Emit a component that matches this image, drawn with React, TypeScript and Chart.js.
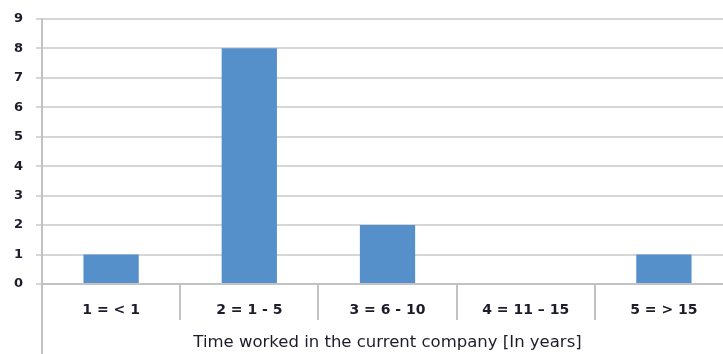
import React, { useEffect, useRef } from "react";
import { Chart, registerables } from "chart.js";

Chart.register(...registerables);

const categories = ["1 = < 1", "2 = 1 - 5", "3 = 6 - 10", "4 = 11 – 15", "5 = > 15"];
const counts = [1, 8, 2, 0, 1];
const yTicks = [0, 1, 2, 3, 4, 5, 6, 7, 8, 9];
const xTitle = "Time worked in the current company [In years]";

const FONT = "'DejaVu Sans', 'Liberation Sans', sans-serif";
const TEXT = "#1c1c2a";
const GRID = "#d6d6d6";
const AXIS = "#c2c2c2";

// extends the left axis line down through the label band
const leftRule = {
  id: "leftRule",
  afterDraw(chart: any) {
    const { ctx, chartArea } = chart;
    ctx.save();
    ctx.strokeStyle = AXIS;
    ctx.lineWidth = 2;
    ctx.beginPath();
    ctx.moveTo(chartArea.left, chartArea.bottom);
    ctx.lineTo(chartArea.left, chart.height);
    ctx.stroke();
    ctx.restore();
  },
};

export default function App() {
  const ref = useRef<HTMLCanvasElement | null>(null);

  useEffect(() => {
    if (!ref.current) return;
    const chart = new Chart(ref.current, {
      type: "bar",
      data: {
        labels: categories,
        datasets: [
          {
            data: counts,
            backgroundColor: "#5590cb",
            borderWidth: 0,
            barPercentage: 0.4,
            categoryPercentage: 1,
          },
        ],
      },
      options: {
        responsive: false,
        animation: false,
        devicePixelRatio: 1,
        layout: { padding: { top: 5, right: 0, bottom: 0, left: 0 } },
        plugins: {
          legend: { display: false },
          tooltip: { enabled: false },
        },
        scales: {
          x: {
            afterFit(scale: any) {
              scale.height = 70;
            },
            grid: {
              offset: true,
              drawOnChartArea: false,
              drawTicks: true,
              tickLength: 36,
              color: AXIS,
              lineWidth: 2,
            },
            border: { color: AXIS, width: 2 },
            ticks: {
              autoSkip: false,
              maxRotation: 0,
              padding: -18,
              color: TEXT,
              font: { family: FONT, size: 14, weight: "bold" },
            },
            title: {
              display: true,
              text: xTitle,
              color: TEXT,
              font: { family: FONT, size: 16.5 },
              padding: { top: 0, bottom: 1 },
            },
          },
          y: {
            min: 0,
            max: 9,
            afterFit(scale: any) {
              scale.width = 42;
            },
            afterBuildTicks(scale: any) {
              scale.ticks = yTicks.map((v) => ({ value: v }));
            },
            grid: {
              color: GRID,
              lineWidth: 2,
              tickLength: 6,
            },
            border: { color: AXIS, width: 2 },
            ticks: {
              padding: 13,
              color: TEXT,
              font: { family: FONT, size: 13, weight: "bold" },
            },
          },
        },
      },
      plugins: [leftRule],
    } as any);
    return () => chart.destroy();
  }, []);

  return (
    <div
      style={{
        position: "fixed",
        left: 0,
        top: 0,
        width: 723,
        height: 354,
        overflow: "hidden",
        background: "#fff",
      }}
    >
      <canvas
        ref={ref}
        width={733}
        height={356}
        style={{ display: "block", marginTop: -2 }}
      />
    </div>
  );
}
